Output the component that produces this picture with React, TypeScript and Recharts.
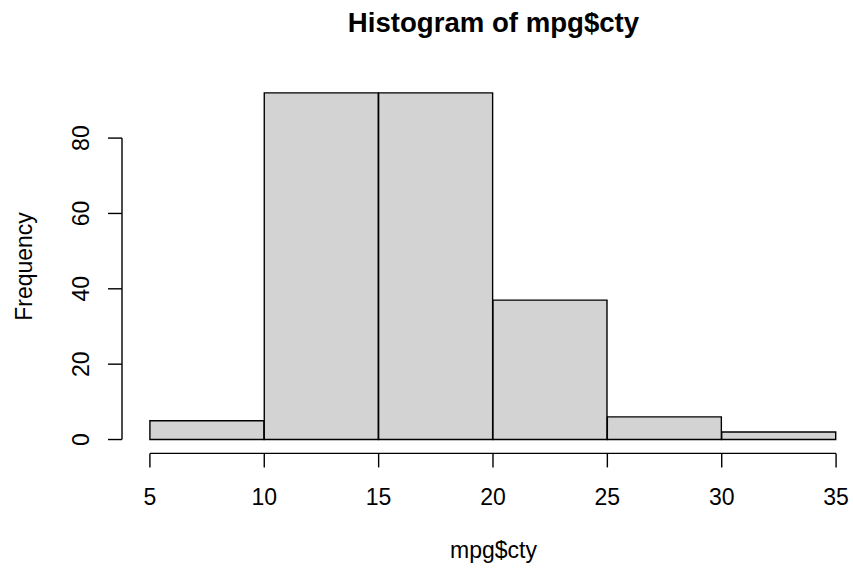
import { ComposedChart, Bar, XAxis, YAxis, ReferenceLine, Label } from 'recharts';

// histogram of mpg$cty, bins of width 5
const binStarts = [5, 10, 15, 20, 25, 30];
const binEnds = [10, 15, 20, 25, 30, 35];
const counts = [5, 92, 92, 37, 6, 2];
const xTicks = [5, 10, 15, 20, 25, 30, 35];
const yTicks = [0, 20, 40, 60, 80];

const data = binStarts.map((s, i) => ({
  mid: (s + binEnds[i]) / 2,
  count: counts[i],
}));

const FONT = '"Liberation Sans", Arial, Helvetica, sans-serif';
const LINE = 1.4;

const XTick = ({ x, y, payload }: any) => (
  <text x={x} y={y} dy={37.6} textAnchor="middle" fontSize={23} fontFamily={FONT} fill="#000">
    {payload.value}
  </text>
);

const YTick = ({ x, y, payload }: any) => (
  <text
    x={x - 19.3}
    y={y}
    transform={`rotate(-90, ${x - 19.3}, ${y})`}
    textAnchor="middle"
    fontSize={23}
    fontFamily={FONT}
    fill="#000"
  >
    {payload.value}
  </text>
);

const App = () => {
  return (
    <div style={{ position: 'absolute', left: 0, top: 0, width: 853, height: 571, background: '#fff' }}>
      <svg width={853} height={571} style={{ position: 'absolute', left: 0, top: 0 }}>
        <text x={493.5} y={32} textAnchor="middle" fontSize={27.6} fontWeight="bold" fontFamily={FONT} fill="#000">
          Histogram of mpg$cty
        </text>
      </svg>
      <div style={{ position: 'absolute', left: 0, top: 0 }}>
        <ComposedChart
          width={853}
          height={571}
          data={data}
          barCategoryGap={0}
          barGap={0}
          margin={{ top: 79, right: 8, left: 0, bottom: 0 }}
        >
          <XAxis
            dataKey="mid"
            type="number"
            domain={[3.78, 35.39]}
            ticks={xTicks}
            interval={0}
            allowDataOverflow
            height={117.6}
            axisLine={false}
            tickSize={14}
            tickMargin={0}
            tickLine={{ stroke: '#000', strokeWidth: LINE }}
            tick={<XTick />}
          >
            <Label
              content={() => (
                <text x={493.5} y={557.5} textAnchor="middle" fontSize={23} fontFamily={FONT} fill="#000">
                  mpg$cty
                </text>
              )}
            />
          </XAxis>
          <YAxis
            type="number"
            domain={[-3.68, 95.68]}
            ticks={yTicks}
            interval={0}
            allowDataOverflow
            width={122}
            axisLine={false}
            tickSize={14}
            tickMargin={0}
            tickLine={{ stroke: '#000', strokeWidth: LINE }}
            tick={<YTick />}
          >
            <Label
              content={() => (
                <text
                  x={32.3}
                  y={266.5}
                  transform="rotate(-90, 32.3, 266.5)"
                  textAnchor="middle"
                  fontSize={23}
                  fontFamily={FONT}
                  fill="#000"
                >
                  Frequency
                </text>
              )}
            />
          </YAxis>
          <ReferenceLine
            segment={[{ x: 5, y: -3.68 }, { x: 35, y: -3.68 }]}
            stroke="#000"
            strokeWidth={LINE}
            ifOverflow="visible"
          />
          <ReferenceLine
            segment={[{ x: 3.78, y: 0 }, { x: 3.78, y: 80 }]}
            stroke="#000"
            strokeWidth={LINE}
            ifOverflow="visible"
          />
          <Bar
            dataKey="count"
            fill="#d3d3d3"
            stroke="#000"
            strokeWidth={LINE}
            isAnimationActive={false}
          />
        </ComposedChart>
      </div>
    </div>
  );
};

export default App;
